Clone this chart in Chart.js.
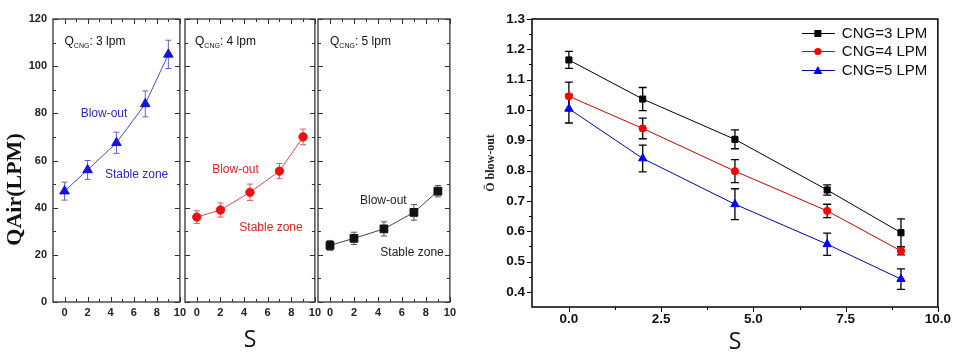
<!DOCTYPE html>
<html><head><meta charset="utf-8">
<script src="https://cdn.jsdelivr.net/npm/chart.js@4"></script>
<style>
html,body{margin:0;padding:0;background:#fff;}
#wrap{position:relative;width:955px;height:358px;overflow:hidden;background:#fff;}
canvas{position:absolute;top:0;}
</style></head><body>
<div id="wrap">
<canvas id="p1" style="left:0px" width="190" height="358"></canvas>
<canvas id="p2" style="left:175px" width="150" height="358"></canvas>
<canvas id="p3" style="left:308px" width="152" height="358"></canvas>
<canvas id="pr" style="left:465px" width="490" height="358"></canvas>
</div>
<script>
// ---------- data ----------
const swirlS = [0, 2, 4.5, 7, 9];
const leftXTicks = [0, 2, 4, 6, 8, 10];
const leftYTicks = [0, 20, 40, 60, 80, 100, 120];
const rightXTicks = [0, 2.5, 5, 7.5, 10];
const rightXTickLabels = ['0.0', '2.5', '5.0', '7.5', '10.0'];
const rightYTicks = [0.4, 0.5, 0.6, 0.7, 0.8, 0.9, 1.0, 1.1, 1.2, 1.3];

const qAirCng3 = [47, 56, 67.5, 84, 105];
const qAirCng3Err = [3.8, 4, 4.5, 5.5, 6];
const qAirCng4 = [36, 39, 46.5, 55.5, 70];
const qAirCng4Err = [2.7, 3, 3.5, 3.2, 3.3];
const qAirCng5 = [24, 27, 31, 38, 47];
const qAirCng5Err = [2.1, 2.6, 3, 3.3, 2.4];

const phiCng3 = [1.165, 1.036, 0.903, 0.736, 0.595];
const phiCng3Err = [0.028, 0.038, 0.031, 0.017, 0.046];
const phiCng4 = [1.045, 0.939, 0.798, 0.667, 0.535];
const phiCng4Err = [0.047, 0.034, 0.038, 0.022, 0.013];
const phiCng5 = [1.004, 0.84, 0.689, 0.557, 0.442];
const phiCng5Err = [0.047, 0.044, 0.051, 0.037, 0.034];

const seriesLabels = ['CNG=3 LPM', 'CNG=4 LPM', 'CNG=5 LPM'];
const panelFlows = ['3 lpm', '4 lpm', '5 lpm'];
const zoneLabels = ['Blow-out', 'Stable zone'];

// ---------- helpers ----------
const pts = (xs, ys) => xs.map((x, i) => ({x: x, y: ys[i]}));

const errorBars = {
  id: 'errorBars',
  beforeDatasetsDraw(chart) {
    const {ctx, scales: {x, y}} = chart;
    ctx.save();
    chart.data.datasets.forEach((ds) => {
      if (!ds.errors) return;
      ctx.strokeStyle = ds.errorColor;
      ctx.lineWidth = ds.errorWidth || 1;
      ds.data.forEach((p, i) => {
        const px = x.getPixelForValue(p.x);
        const yHi = y.getPixelForValue(p.y + ds.errors[i]);
        const yLo = y.getPixelForValue(p.y - ds.errors[i]);
        const c = ds.capHalf;
        ctx.beginPath();
        ctx.moveTo(px, yHi); ctx.lineTo(px, yLo);
        ctx.moveTo(px - c, yHi); ctx.lineTo(px + c, yHi);
        ctx.moveTo(px - c, yLo); ctx.lineTo(px + c, yLo);
        ctx.stroke();
      });
    });
    ctx.restore();
  }
};

function mids(arr) { const m = []; for (let i = 0; i < arr.length - 1; i++) m.push((arr[i] + arr[i + 1]) / 2); return m; }

const frameInner = {
  id: 'frameInner',
  afterDatasetsDraw(chart) {
    const {ctx, chartArea: a, scales: {x, y}} = chart;
    ctx.save();
    ctx.strokeStyle = '#333'; ctx.lineWidth = 1;
    ctx.beginPath();
    const xt = (vals, len) => vals.forEach(v => {
      const p = Math.round(x.getPixelForValue(v)) + 0.5;
      ctx.moveTo(p, a.bottom); ctx.lineTo(p, a.bottom - len);
      ctx.moveTo(p, a.top); ctx.lineTo(p, a.top + len);
    });
    const yt = (vals, len) => vals.forEach(v => {
      const p = Math.round(y.getPixelForValue(v)) + 0.5;
      ctx.moveTo(a.left, p); ctx.lineTo(a.left + len, p);
      ctx.moveTo(a.right, p); ctx.lineTo(a.right - len, p);
    });
    xt(leftXTicks, 5); xt(mids(leftXTicks), 3);
    yt(leftYTicks, 5); yt(mids(leftYTicks), 3);
    ctx.stroke();
    ctx.lineWidth = 1.3;
    ctx.strokeRect(a.left, a.top, a.right - a.left, a.bottom - a.top);
    ctx.restore();
  }
};

const frameOuter = {
  id: 'frameOuter',
  afterDatasetsDraw(chart) {
    const {ctx, chartArea: a, scales: {x, y}} = chart;
    ctx.save();
    ctx.strokeStyle = '#000'; ctx.lineWidth = 1;
    ctx.beginPath();
    const xt = (vals, len) => vals.forEach(v => {
      const p = Math.round(x.getPixelForValue(v)) + 0.5;
      ctx.moveTo(p, a.bottom); ctx.lineTo(p, a.bottom + len);
    });
    const yt = (vals, len) => vals.forEach(v => {
      const p = Math.round(y.getPixelForValue(v)) + 0.5;
      ctx.moveTo(a.left, p); ctx.lineTo(a.left - len, p);
    });
    xt(rightXTicks, 5); xt(mids(rightXTicks), 3);
    yt(rightYTicks, 5); yt(mids(rightYTicks), 3);
    ctx.stroke();
    ctx.lineWidth = 1.5;
    ctx.strokeRect(a.left, a.top, a.right - a.left, a.bottom - a.top);
    ctx.restore();
  }
};

function annotations(flow, color, pos) {
  return {
    id: 'annot',
    afterDatasetsDraw(chart) {
      const {ctx, scales: {x, y}} = chart;
      ctx.save();
      ctx.textBaseline = 'middle';
      ctx.textAlign = 'left';
      // Q_CNG label
      let qx = x.getPixelForValue(pos.q[0]);
      const qy = y.getPixelForValue(pos.q[1]);
      ctx.fillStyle = '#111';
      ctx.font = '12px "Liberation Sans", Arial, sans-serif';
      ctx.fillText('Q', qx, qy);
      qx += ctx.measureText('Q').width;
      ctx.font = '7px "Liberation Sans", Arial, sans-serif';
      ctx.fillText('CNG', qx, qy + 4);
      qx += ctx.measureText('CNG').width;
      ctx.font = '12px "Liberation Sans", Arial, sans-serif';
      ctx.fillText(': ' + flow, qx, qy);
      // zones
      ctx.fillStyle = color;
      ctx.font = '12px "Liberation Sans", Arial, sans-serif';
      ctx.fillText(zoneLabels[0], x.getPixelForValue(pos.b[0]), y.getPixelForValue(pos.b[1]));
      ctx.fillText(zoneLabels[1], x.getPixelForValue(pos.s[0]), y.getPixelForValue(pos.s[1]));
      ctx.restore();
    }
  };
}

const leftYTitle = {
  id: 'leftYTitle',
  afterDraw(chart) {
    const {ctx, chartArea: a} = chart;
    ctx.save();
    ctx.translate(a.left - 38, (a.top + a.bottom) / 2 + 29);
    ctx.rotate(-Math.PI / 2);
    ctx.font = 'bold 22px "Liberation Serif", "Times New Roman", serif';
    ctx.fillStyle = '#111';
    ctx.textAlign = 'center';
    ctx.textBaseline = 'middle';
    ctx.fillText('QAir(LPM)', 0, 0);
    ctx.restore();
  }
};

const tickFontL = {family: '"Liberation Sans", Arial, sans-serif', size: 11, weight: 'bold'};

function makePanel(id, ys, errs, sty, flow, pos, opt) {
  const plugins = [errorBars, frameInner, annotations(flow, sty.text, pos)];
  if (opt.yTitle) plugins.push(leftYTitle);
  return new Chart(document.getElementById(id), {
    type: 'line',
    data: {
      datasets: [{
        data: pts(swirlS, ys),
        errors: errs, errorColor: sty.err, capHalf: 3, errorWidth: 1,
        borderColor: sty.line, borderWidth: 1,
        pointStyle: sty.shape, pointRadius: sty.r,
        pointBackgroundColor: sty.mark, pointBorderColor: sty.mark, pointBorderWidth: 1,
        tension: 0, fill: false
      }]
    },
    options: {
      responsive: false, animation: false, devicePixelRatio: 1,
      layout: {autoPadding: false, padding: {left: opt.padL, right: opt.padR, top: 19, bottom: 0}},
      plugins: {legend: {display: false}, tooltip: {enabled: false}},
      scales: {
        x: {
          type: 'linear', min: -1, max: 10,
          afterBuildTicks: s => { s.ticks = leftXTicks.map(v => ({value: v})); },
          afterFit: s => { s.height = 56; },
          grid: {display: false, drawTicks: false}, border: {display: false},
          ticks: {font: tickFontL, color: '#222', padding: 4, maxRotation: 0, autoSkip: false},
          title: {display: !!opt.xTitle, text: 'S', color: '#111',
                  font: {family: '"Open Sans", "Liberation Sans", sans-serif', size: 23},
                  padding: {top: 0, bottom: 4}}
        },
        y: {
          type: 'linear', min: 0, max: 120,
          display: !!opt.yTicks,
          afterBuildTicks: s => { s.ticks = leftYTicks.map(v => ({value: v})); },
          afterFit: s => { s.width = opt.yTicks ? 53 : 0; },
          grid: {display: false, drawTicks: false}, border: {display: false},
          ticks: {font: tickFontL, color: '#222', padding: 6}
        }
      }
    },
    plugins: plugins
  });
}

makePanel('p1', qAirCng3, qAirCng3Err,
  {line: '#4b4bcc', mark: '#1414dc', err: '#6262cc', text: '#2a2ac4', shape: 'triangle', r: 5.5},
  panelFlows[0], {q: [0, 110.3], b: [1.4, 80], s: [3.5, 53.8]},
  {padL: 0, padR: 5, yTicks: true, yTitle: true});
makePanel('p2', qAirCng4, qAirCng4Err,
  {line: '#e04848', mark: '#ee1111', err: '#e05a5a', text: '#dd2222', shape: 'circle', r: 4.2},
  panelFlows[1], {q: [-0.15, 110.3], b: [1.3, 56], s: [3.6, 31.4]},
  {padL: 10, padR: 7, xTitle: true});
makePanel('p3', qAirCng5, qAirCng5Err,
  {line: '#444', mark: '#111', err: '#555', text: '#222', shape: 'rect', r: 5.5},
  panelFlows[2], {q: [0, 110.3], b: [2.5, 43], s: [4.2, 21]},
  {padL: 10, padR: 4});

// ---------- right chart ----------
const legendBox = {
  id: 'legendBox',
  afterDraw(chart) {
    const {ctx, chartArea: a} = chart;
    ctx.save();
    ctx.font = '15px "Liberation Sans", Arial, sans-serif';
    ctx.textBaseline = 'middle';
    ctx.textAlign = 'left';
    const rows = [14, 32, 51];
    chart.data.datasets.forEach((ds, i) => {
      const yy = a.top + rows[i];
      const x0 = a.right - 136, x1 = a.right - 103, xm = a.right - 120;
      ctx.strokeStyle = ds.borderColor; ctx.lineWidth = 1;
      ctx.beginPath(); ctx.moveTo(x0, yy + 0.5); ctx.lineTo(x1, yy + 0.5); ctx.stroke();
      ctx.fillStyle = ds.pointBackgroundColor;
      ctx.beginPath();
      if (ds.pointStyle === 'rect') ctx.rect(xm - 3.5, yy - 3, 7, 7);
      else if (ds.pointStyle === 'circle') ctx.arc(xm, yy + 0.5, 3.6, 0, Math.PI * 2);
      else { ctx.moveTo(xm, yy - 4); ctx.lineTo(xm + 4.5, yy + 4); ctx.lineTo(xm - 4.5, yy + 4); ctx.closePath(); }
      ctx.fill();
      ctx.fillStyle = '#111';
      ctx.fillText(ds.label, a.right - 96, yy + 1);
    });
    ctx.restore();
  }
};

const tickFontR = {family: '"Liberation Sans", Arial, sans-serif', size: 13.5, weight: 'bold'};

new Chart(document.getElementById('pr'), {
  type: 'line',
  data: {
    datasets: [
      {label: seriesLabels[0], data: pts(swirlS, phiCng3), errors: phiCng3Err,
       borderColor: '#000', pointBackgroundColor: '#000', pointBorderColor: '#000', pointStyle: 'rect', pointRadius: 4.3},
      {label: seriesLabels[1], data: pts(swirlS, phiCng4), errors: phiCng4Err,
       borderColor: '#c80000', pointBackgroundColor: '#ff0000', pointBorderColor: '#ff0000', pointStyle: 'circle', pointRadius: 3.6},
      {label: seriesLabels[2], data: pts(swirlS, phiCng5), errors: phiCng5Err,
       borderColor: '#0000b4', pointBackgroundColor: '#0000ff', pointBorderColor: '#0000ff', pointStyle: 'triangle', pointRadius: 4.8}
    ].map(d => Object.assign(d, {borderWidth: 1, pointBorderWidth: 1, tension: 0, fill: false,
                                 errorColor: '#000', capHalf: 4, errorWidth: 1.3}))
  },
  options: {
    responsive: false, animation: false, devicePixelRatio: 1,
    layout: {autoPadding: false, padding: {left: 0, right: 17, top: 19, bottom: 0}},
    plugins: {legend: {display: false}, tooltip: {enabled: false}},
    scales: {
      x: {
        type: 'linear', min: -1, max: 10,
        afterBuildTicks: s => { s.ticks = rightXTicks.map(v => ({value: v})); },
        afterFit: s => { s.height = 51; },
        grid: {display: false, drawTicks: false}, border: {display: false},
        ticks: {font: tickFontR, color: '#111', padding: 4, maxRotation: 0, autoSkip: false,
                callback: v => rightXTickLabels[rightXTicks.indexOf(v)]},
        title: {display: true, text: 'S', color: '#111',
                font: {family: '"Open Sans", "Liberation Sans", sans-serif', size: 23},
                padding: {top: 0, bottom: 2}}
      },
      y: {
        type: 'linear', min: 0.35, max: 1.3,
        afterBuildTicks: s => { s.ticks = rightYTicks.map(v => ({value: v})); },
        afterFit: s => { s.width = 67; },
        grid: {display: false, drawTicks: false}, border: {display: false},
        ticks: {font: tickFontR, color: '#111', padding: 7, callback: v => v.toFixed(1)},
        title: {display: true, text: 'Ö blow-out', color: '#222',
                font: {family: '"Liberation Serif", "Times New Roman", serif', size: 12, weight: 'bold'},
                padding: {top: 19, bottom: 0}}
      }
    }
  },
  plugins: [errorBars, frameOuter, legendBox]
});
</script>
</body></html>
